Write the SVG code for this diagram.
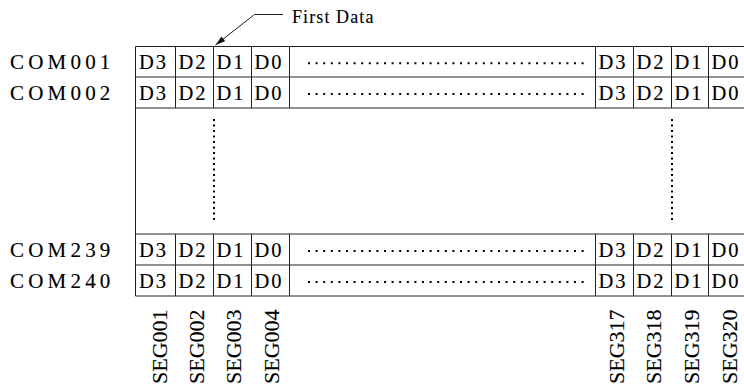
<svg xmlns="http://www.w3.org/2000/svg" width="744" height="389" viewBox="0 0 744 389">
<style>
.ln{stroke:#222;stroke-width:1;fill:none}
.dot{stroke:#000;stroke-width:2;stroke-dasharray:2 5.6;fill:none}
.vdot{stroke:#000;stroke-width:2;stroke-dasharray:2 3.5;fill:none}
.t{font-family:"Liberation Serif","Times New Roman",serif;font-size:20.5px;fill:#000;stroke:#000;stroke-width:0.15}
.com{font-size:21px;letter-spacing:4.2px}
.d{letter-spacing:2px}
.seg{font-family:"Liberation Serif","Times New Roman",serif;font-size:22px;fill:#000;stroke:#000;stroke-width:0.15}
.fd{font-family:"Liberation Serif","Times New Roman",serif;font-size:18px;letter-spacing:1.1px;fill:#000;stroke:#000;stroke-width:0.1}
</style>
<defs>
<marker id="ah" viewBox="0 0 10 6" refX="10" refY="3" markerWidth="10" markerHeight="6" markerUnits="userSpaceOnUse" orient="auto">
<path d="M0,0 L10,3 L0,6 Z" fill="#111"/>
</marker>
</defs>

<g id="table">
<path class="ln" d="M135.5,46.5H744M135.5,77H744M135.5,108H744M135.5,234H744M135.5,265H744M135.5,296H744"/>
<path class="ln" d="M135.5,46.5V296"/>
<path class="ln" d="M175.5,46.5V108M213.5,46.5V108M251.5,46.5V108M289.5,46.5V108M595.5,46.5V108M633.5,46.5V108M671.5,46.5V108M708.5,46.5V108"/>
<path class="ln" d="M175.5,234V296M213.5,234V296M251.5,234V296M289.5,234V296M595.5,234V296M633.5,234V296M671.5,234V296M708.5,234V296"/>
<path class="dot" d="M308,63.3H588M308,94H588M308,251H588M308,282H588"/>
<path class="vdot" d="M214,119V222M672,119V222"/>
</g>

<g id="com001">
<text class="t com" x="10" y="69">COM001</text>
<text class="t d" x="139" y="69">D3</text><text class="t d" x="178.5" y="69">D2</text><text class="t d" x="216.5" y="69">D1</text><text class="t d" x="254.5" y="69">D0</text>
<text class="t d" x="598.5" y="69">D3</text><text class="t d" x="636.5" y="69">D2</text><text class="t d" x="674.5" y="69">D1</text><text class="t d" x="711.5" y="69">D0</text>
</g>
<g id="com002">
<text class="t com" x="10" y="99.7">COM002</text>
<text class="t d" x="139" y="99.7">D3</text><text class="t d" x="178.5" y="99.7">D2</text><text class="t d" x="216.5" y="99.7">D1</text><text class="t d" x="254.5" y="99.7">D0</text>
<text class="t d" x="598.5" y="99.7">D3</text><text class="t d" x="636.5" y="99.7">D2</text><text class="t d" x="674.5" y="99.7">D1</text><text class="t d" x="711.5" y="99.7">D0</text>
</g>
<g id="com239">
<text class="t com" x="10" y="257">COM239</text>
<text class="t d" x="139" y="257">D3</text><text class="t d" x="178.5" y="257">D2</text><text class="t d" x="216.5" y="257">D1</text><text class="t d" x="254.5" y="257">D0</text>
<text class="t d" x="598.5" y="257">D3</text><text class="t d" x="636.5" y="257">D2</text><text class="t d" x="674.5" y="257">D1</text><text class="t d" x="711.5" y="257">D0</text>
</g>
<g id="com240">
<text class="t com" x="10" y="288.2">COM240</text>
<text class="t d" x="139" y="288.2">D3</text><text class="t d" x="178.5" y="288.2">D2</text><text class="t d" x="216.5" y="288.2">D1</text><text class="t d" x="254.5" y="288.2">D0</text>
<text class="t d" x="598.5" y="288.2">D3</text><text class="t d" x="636.5" y="288.2">D2</text><text class="t d" x="674.5" y="288.2">D1</text><text class="t d" x="711.5" y="288.2">D0</text>
</g>

<g id="segs">
<text class="seg" transform="translate(166.5,384) rotate(-90)">SEG001</text>
<text class="seg" transform="translate(204,384) rotate(-90)">SEG002</text>
<text class="seg" transform="translate(241,384) rotate(-90)">SEG003</text>
<text class="seg" transform="translate(279,384) rotate(-90)">SEG004</text>
<text class="seg" transform="translate(624,384) rotate(-90)">SEG317</text>
<text class="seg" transform="translate(661,384) rotate(-90)">SEG318</text>
<text class="seg" transform="translate(699,384) rotate(-90)">SEG319</text>
<text class="seg" transform="translate(736.5,384) rotate(-90)">SEG320</text>
</g>

<g id="first-data">
<text class="fd" x="292" y="22.5">First Data</text>
</g>
<g id="connectors">
<path class="ln" d="M283,14.5H254.5L215.5,45" marker-end="url(#ah)"/>
</g>
</svg>
